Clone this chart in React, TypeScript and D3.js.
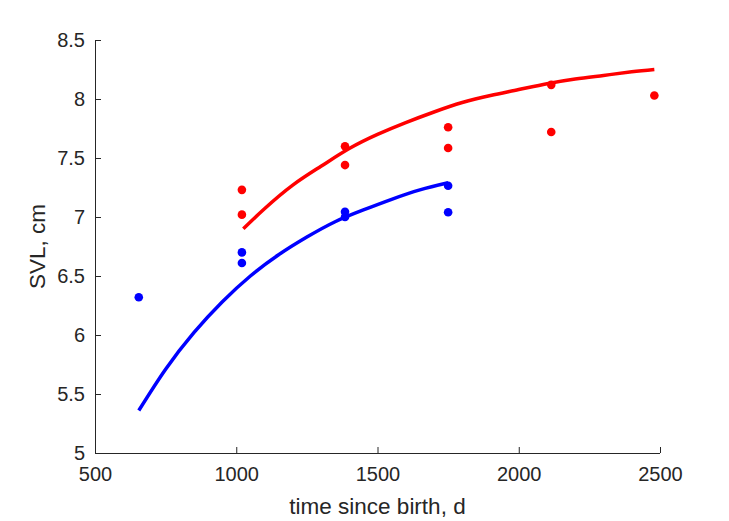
import { useEffect, useRef } from 'react'
import * as d3 from 'd3'

// ticks
const xTicks = [500, 1000, 1500, 2000, 2500]
const yTicks = [5, 5.5, 6, 6.5, 7, 7.5, 8, 8.5]

// measured points (time since birth, d / SVL, cm)
const blueAge = [655, 1020, 1020, 1385, 1385, 1750, 1750]
const blueSvl = [6.32, 6.70, 6.61, 7.045, 7.00, 7.265, 7.04]
const redAge = [1020, 1020, 1385, 1385, 1750, 1750, 2115, 2115, 2480]
const redSvl = [7.23, 7.02, 7.60, 7.44, 7.76, 7.585, 8.12, 7.72, 8.03]

// fitted growth curves
const blueCurveAge = [655, 750, 850, 950, 1050, 1150, 1250, 1350, 1450, 1550, 1650, 1750]
const blueCurveSvl = [5.36, 5.71, 6.02, 6.28, 6.50, 6.68, 6.83, 6.96, 7.06, 7.15, 7.23, 7.29]
const redCurveAge = [1025, 1100, 1200, 1300, 1400, 1500, 1600, 1700, 1800, 1900, 2000, 2100, 2200, 2300, 2400, 2480]
const redCurveSvl = [6.90, 7.07, 7.27, 7.43, 7.58, 7.70, 7.80, 7.89, 7.97, 8.03, 8.08, 8.13, 8.17, 8.20, 8.23, 8.25]

const W = 729
const H = 521
const axisColor = '#262626'
const font = '"Liberation Sans", Arial, Helvetica, sans-serif'

function GrowthChart() {
  const svgRef = useRef<SVGSVGElement>(null)

  useEffect(() => {
    const svg = d3.select(svgRef.current)
    svg.selectAll('*').remove()

    const x = d3.scaleLinear().domain([500, 2500]).range([95, 660])
    const y = d3.scaleLinear().domain([5, 8.5]).range([453, 40])

    svg.append('rect').attr('width', W).attr('height', H).attr('fill', '#fff')

    // eixos
    const xAxis = svg.append('g')
      .attr('transform', `translate(0,${y(5)})`)
      .call(d3.axisBottom(x).tickValues(xTicks).tickSize(-6).tickPadding(14).tickFormat(d3.format('d')))
    const yAxis = svg.append('g')
      .attr('transform', `translate(${x(500)},0)`)
      .call(d3.axisLeft(y).tickValues(yTicks).tickSize(-6).tickPadding(10).tickFormat(d => String(d)))

    ;[xAxis, yAxis].forEach(a => {
      a.select('.domain').attr('stroke', axisColor).attr('stroke-width', 1)
      a.selectAll('.tick line').attr('stroke', axisColor)
      a.selectAll('.tick text')
        .attr('fill', axisColor)
        .attr('font-size', 20)
        .attr('font-family', font)
    })
    xAxis.select('.domain').attr('d', `M${x(500)},0.5H${x(2500)}`)
    yAxis.select('.domain').attr('d', `M0.5,${y(5)}V${y(8.5)}`)
    xAxis.selectAll('.tick text').attr('dy', '0.71em')

    // curvas
    const line = d3.line<[number, number]>()
      .x(d => x(d[0]))
      .y(d => y(d[1]))
      .curve(d3.curveNatural)

    const curves = [
      { age: blueCurveAge, svl: blueCurveSvl, color: '#0000ff' },
      { age: redCurveAge, svl: redCurveSvl, color: '#ff0000' }
    ]
    curves.forEach(c => {
      svg.append('path')
        .attr('d', line(c.age.map((a, i) => [a, c.svl[i]] as [number, number])))
        .attr('fill', 'none')
        .attr('stroke', c.color)
        .attr('stroke-width', 3.5)
    })

    // pontos
    const points = [
      { age: blueAge, svl: blueSvl, color: '#0000ff' },
      { age: redAge, svl: redSvl, color: '#ff0000' }
    ]
    points.forEach(p => {
      svg.append('g')
        .selectAll('circle')
        .data(p.age.map((a, i) => [a, p.svl[i]]))
        .enter()
        .append('circle')
        .attr('cx', d => x(d[0]))
        .attr('cy', d => y(d[1]))
        .attr('r', 4.3)
        .attr('fill', p.color)
    })

    // titulos dos eixos
    svg.append('text')
      .attr('x', (x(500) + x(2500)) / 2)
      .attr('y', 514)
      .attr('text-anchor', 'middle')
      .attr('font-size', 22.5)
      .attr('font-family', font)
      .attr('fill', axisColor)
      .text('time since birth, d')

    svg.append('text')
      .attr('transform', `translate(45,${(y(5) + y(8.5)) / 2}) rotate(-90)`)
      .attr('text-anchor', 'middle')
      .attr('font-size', 22.5)
      .attr('font-family', font)
      .attr('fill', axisColor)
      .text('SVL, cm')
  }, [])

  return <svg ref={svgRef} width={W} height={H} style={{ display: 'block' }}></svg>
}

export default function App() {
  return (
    <div style={{ position: 'fixed', left: 0, top: 0, width: W, height: H, background: '#fff' }}>
      <GrowthChart />
    </div>
  )
}
